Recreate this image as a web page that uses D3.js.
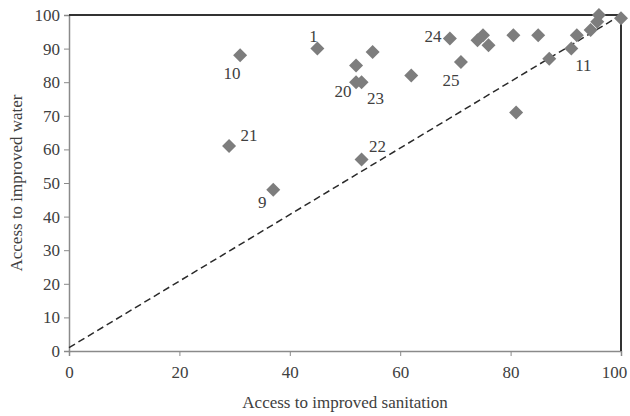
<!DOCTYPE html>
<html>
<head>
<meta charset="utf-8">
<script src="https://cdn.jsdelivr.net/npm/d3@7"></script>
<style>
  body { margin: 0; background: #fff; }
  svg text { font-family: "Liberation Serif", "Times New Roman", Times, serif !important; fill: #404040; }
</style>
</head>
<body>
<svg id="chart" width="630" height="416"></svg>
<script>
// sanitation (x) / water (y) access, percent
const sanitation = [45, 31, 29, 37, 53, 52, 55, 52, 53, 62, 69, 71, 74, 75, 76, 80.5, 85, 81, 87, 91, 92, 94.5, 95.7, 96, 100];
const water      = [90, 88, 61, 48, 57, 85, 89, 80, 80, 82, 93, 86, 92.5, 94, 91, 94, 94, 71, 87, 90, 94, 95.5, 98, 100, 99];
// numbered points: index into the arrays above, and the label
const labelIndex = [0, 1, 2, 3, 4, 7, 8, 10, 11, 19];
const labelText  = ["1", "10", "21", "9", "22", "20", "23", "24", "25", "11"];
// reference line end points
const lineX = [0, 100];
const lineY = [1, 100];
const xTicks = [0, 20, 40, 60, 80, 100];
const yTicks = [0, 10, 20, 30, 40, 50, 60, 70, 80, 90, 100];

// label offsets in px (layout only)
const labelOffset = [[-4, -12], [-8, 18], [20, -11], [-11, 13], [16, -13], [-13, 9], [14, 16], [-17, -2], [-10, 18], [12, 17]];

const svg = d3.select("#chart");
const plotL = 69, plotR = 621, plotT = 15, plotB = 351;

const x = d3.scaleLinear().domain([0, 100]).range([plotL, plotR]);
const y = d3.scaleLinear().domain([0, 100]).range([plotB, plotT]);

// y axis
const yAxis = svg.append("g")
  .attr("transform", `translate(${plotL},0)`)
  .call(d3.axisLeft(y).tickValues(yTicks).tickSize(5).tickPadding(4));
// x axis
const xAxis = svg.append("g")
  .attr("transform", `translate(0,${plotB})`)
  .call(d3.axisBottom(x).tickValues(xTicks).tickSize(5).tickPadding(10));

[yAxis, xAxis].forEach(g => {
  g.attr("font-family", null);
  g.select(".domain").attr("stroke", "#8a8a8a").attr("stroke-width", 1.5);
  g.selectAll(".tick line").attr("stroke", "#8a8a8a");
  g.selectAll("text").style("font-size", "17px").attr("fill", "#404040");
});
// last x label sits a little left, like the original
xAxis.selectAll(".tick text").filter(d => d === 100).attr("dx", -7);

// top and right frame
svg.append("path")
  .attr("d", `M${plotL},${plotT}H${plotR}V${plotB}`)
  .attr("fill", "none")
  .attr("stroke", "#333")
  .attr("stroke-width", 2);

// dashed line
svg.append("line")
  .attr("x1", x(lineX[0])).attr("y1", y(lineY[0]))
  .attr("x2", x(lineX[1])).attr("y2", y(lineY[1]))
  .attr("stroke", "#2a2a2a")
  .attr("stroke-width", 1.5)
  .attr("stroke-dasharray", "7,4");

// diamonds
const pts = sanitation.map((s, i) => ({ s, w: water[i] }));
svg.selectAll(".pt")
  .data(pts)
  .enter()
  .append("path")
  .attr("class", "pt")
  .attr("transform", d => `translate(${x(d.s)},${y(d.w)})`)
  .attr("d", "M0,-7L7,0L0,7L-7,0Z")
  .attr("fill", "#7d7d7d");

// point labels
svg.selectAll(".lbl")
  .data(labelIndex)
  .enter()
  .append("text")
  .attr("class", "lbl")
  .attr("x", (d, i) => x(sanitation[d]) + labelOffset[i][0])
  .attr("y", (d, i) => y(water[d]) + labelOffset[i][1])
  .attr("text-anchor", "middle")
  .attr("dominant-baseline", "central")
  .style("font-size", "17px")
  .text((d, i) => labelText[i]);

// axis titles
svg.append("text")
  .attr("x", (plotL + plotR) / 2)
  .attr("y", 408)
  .attr("text-anchor", "middle")
  .style("font-size", "17px")
  .text("Access to improved sanitation");

svg.append("text")
  .attr("transform", `translate(22,${(plotT + plotB) / 2}) rotate(-90)`)
  .attr("text-anchor", "middle")
  .style("font-size", "17px")
  .text("Access to improved water");
</script>
</body>
</html>
